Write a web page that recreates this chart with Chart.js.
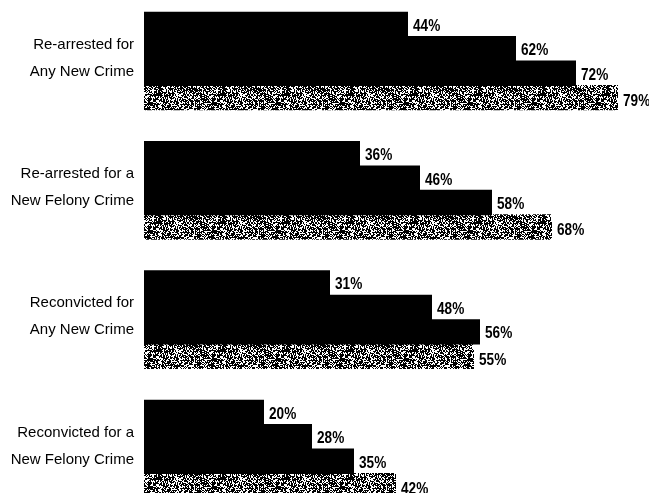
<!DOCTYPE html>
<html>
<head>
<meta charset="utf-8">
<script src="https://cdn.jsdelivr.net/npm/chart.js@4"></script>
<style>
  body { margin: 0; background: #fff; }
  #wrap { width: 649px; height: 493px; position: relative; }
</style>
</head>
<body>
<div id="wrap"><canvas id="chart"></canvas></div>
<script>
// Categories (two-line labels) and the four series, in percent
const categories = [
    ['Re-arrested for', 'Any New Crime'],
    ['Re-arrested for a', 'New Felony Crime'],
    ['Reconvicted for', 'Any New Crime'],
    ['Reconvicted for a', 'New Felony Crime']
];
const series1 = [44, 36, 31, 20];
const series2 = [62, 46, 48, 28];
const series3 = [72, 58, 56, 35];
const series4 = [79, 68, 55, 42];

const sans = "'Liberation Sans', Arial, sans-serif";

// Stippled grey fill for the last series (fixed dither, not data)
function makeStipple() {
    const c = document.createElement('canvas');
    c.width = 64; c.height = 64;
    const g = c.getContext('2d');
    g.fillStyle = '#fff';
    g.fillRect(0, 0, 64, 64);
    g.fillStyle = '#000';
    let s = 2463534242;
    const next = () => {
        s ^= s << 13; s >>>= 0;
        s ^= s >>> 17;
        s ^= s << 5; s >>>= 0;
        return s / 4294967296;
    };
    for (let y = 0; y < 64; y++) {
        for (let x = 0; x < 64; x++) {
            const bias = (x % 7 === 0 || y % 5 === 0) ? 0.15 : 0;
            if (next() < 0.55 + bias) g.fillRect(x, y, 1, 1);
        }
    }
    return g.createPattern(c, 'repeat');
}

const valueLabels = {
    id: 'valueLabels',
    afterDatasetsDraw(chart) {
        const ctx = chart.ctx;
        chart.data.datasets.forEach((ds, i) => {
            const meta = chart.getDatasetMeta(i);
            meta.data.forEach((bar, j) => {
                const dy = i === 3 ? 4 : 2;
                ctx.save();
                ctx.translate(bar.x + 5, bar.y + dy);
                ctx.scale(0.85, 1);
                ctx.fillStyle = '#000';
                ctx.font = 'bold 16px ' + sans;
                ctx.textAlign = 'left';
                ctx.textBaseline = 'middle';
                ctx.fillText(ds.data[j] + '%', 0, 0);
                ctx.restore();
            });
        });
    }
};

const stipple = makeStipple();

new Chart(document.getElementById('chart'), {
    type: 'bar',
    data: {
        labels: categories,
        datasets: [
            { label: 'Series 1', data: series1, backgroundColor: '#000', clip: false },
            { label: 'Series 2', data: series2, backgroundColor: '#000', clip: false },
            { label: 'Series 3', data: series3, backgroundColor: '#000', clip: false },
            { label: 'Series 4', data: series4, backgroundColor: stipple, clip: false }
        ]
    },
    options: {
        indexAxis: 'y',
        responsive: true,
        maintainAspectRatio: false,
        animation: false,
        layout: { padding: { top: 61, bottom: 44, left: 0, right: 1 } },
        datasets: {
            bar: { categoryPercentage: 0.755, barPercentage: 1.04 }
        },
        plugins: {
            legend: { display: false },
            tooltip: { enabled: false }
        },
        scales: {
            x: { display: false, min: 0, max: 84 },
            y: {
                offset: false,
                grid: { display: false, drawTicks: false },
                border: { display: false },
                afterFit: s => { s.width = 144; },
                ticks: {
                    autoSkip: false,
                    padding: 10,
                    labelOffset: -3,
                    color: '#000',
                    font: { family: sans, size: 15, lineHeight: 1.8 }
                }
            }
        }
    },
    plugins: [valueLabels]
});
</script>
</body>
</html>
